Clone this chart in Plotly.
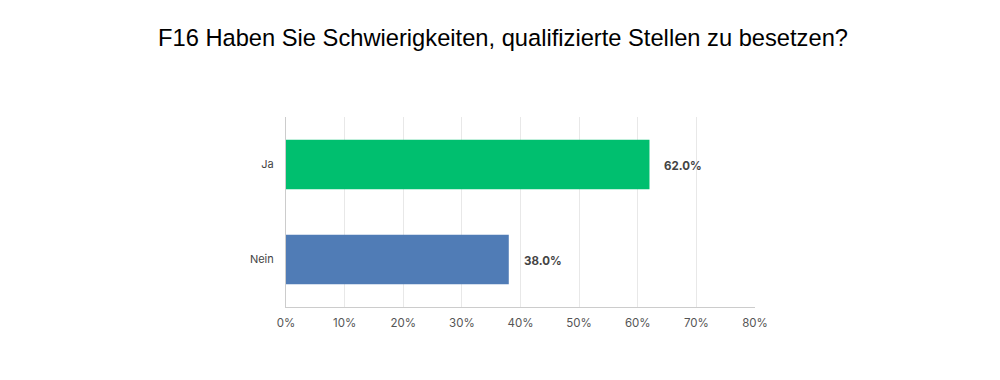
import plotly.graph_objects as go

categories = ["Ja", "Nein"]
values = [62.0, 38.0]
colors = ["#00bf6f", "#507cb6"]
tick_vals = [0, 10, 20, 30, 40, 50, 60, 70, 80]
tick_text = ["0%", "10%", "20%", "30%", "40%", "50%", "60%", "70%", "80%"]
title = "F16 Haben Sie Schwierigkeiten, qualifizierte Stellen zu besetzen?"

fig = go.Figure()
fig.add_trace(go.Bar(
    y=categories, x=values, orientation="h",
    marker=dict(color=colors, line=dict(width=0)),
    width=0.52, hoverinfo="skip",
))
for c, v in zip(categories, values):
    fig.add_annotation(x=v, y=c, text=f"<b>{v:.1f}%</b>", showarrow=False,
                       xanchor="left", xshift=13, yshift=-1,
                       font=dict(family="Inter, Roboto, sans-serif", size=11.5, color="#444"))

fig.update_layout(
    width=1000, height=380,
    margin=dict(l=278, r=253, t=109, b=81),
    paper_bgcolor="white", plot_bgcolor="white",
    showlegend=False,
    title=dict(text=title, x=0.495, xanchor="center", y=0.921, yanchor="middle",
               font=dict(family="Liberation Sans, Arial, sans-serif", size=23.7, color="#000")),
    xaxis=dict(range=[0, 80], tickvals=tick_vals, ticktext=tick_text,
               showgrid=True, gridcolor="#e8e8e8", gridwidth=1,
               showline=True, linecolor="#cccccc", linewidth=1,
               zeroline=False, ticks="", ticklen=0, ticklabelstandoff=5,
               tickfont=dict(family="Inter, Roboto, sans-serif", size=11.5, color="#555")),
    yaxis=dict(autorange="reversed", showline=True, linecolor="#cccccc", linewidth=1,
               showgrid=False, ticks="", ticklabelstandoff=9,
               tickfont=dict(family="Inter, Roboto, sans-serif", size=11, color="#444")),
)
fig.write_html("out.html")
